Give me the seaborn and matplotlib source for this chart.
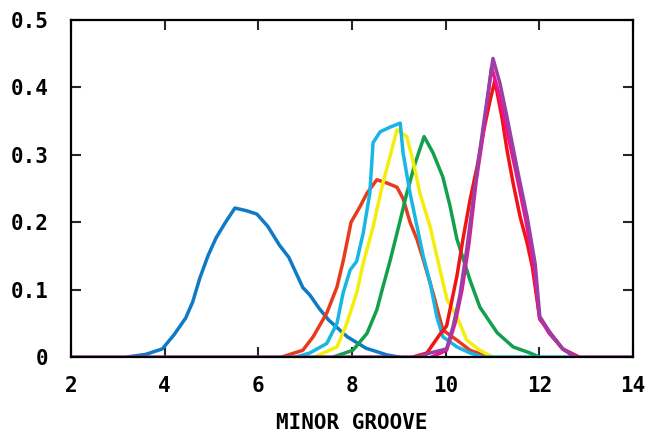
import numpy as np
import pandas as pd
import matplotlib
matplotlib.use("Agg")
import matplotlib.pyplot as plt
import seaborn as sns

# values, one curve per list pair
blue_x = [3.2, 3.6, 3.95, 4.2, 4.45, 4.6, 4.75, 4.93, 5.1, 5.3, 5.5, 5.75, 5.97, 6.2, 6.45,
          6.65, 6.95, 7.1, 7.3, 7.5, 7.9, 8.3, 8.75, 9.0]
blue_y = [0, 0.004, 0.012, 0.033, 0.058, 0.082, 0.117, 0.151, 0.177, 0.200, 0.221, 0.217, 0.212,
          0.194, 0.166, 0.148, 0.103, 0.092, 0.072, 0.055, 0.030, 0.013, 0.003, 0]

orange_x = [6.5, 6.95, 7.17, 7.46, 7.68, 7.82, 7.98, 8.17, 8.32, 8.53, 8.75, 8.96, 9.09, 9.24,
            9.39, 9.52, 9.73, 9.94, 10.24, 10.52, 10.8, 11.0]
orange_y = [0, 0.01, 0.03, 0.065, 0.104, 0.145, 0.2, 0.223, 0.243, 0.263, 0.258, 0.252, 0.235,
            0.200, 0.174, 0.145, 0.095, 0.04, 0.025, 0.01, 0.003, 0]

green_x = [7.6, 8.02, 8.32, 8.53, 8.66, 8.81, 9.03, 9.17, 9.35, 9.54, 9.73, 9.94, 10.09, 10.24,
           10.52, 10.73, 11.1, 11.44, 11.8, 12.0]
green_y = [0, 0.01, 0.035, 0.07, 0.104, 0.142, 0.203, 0.243, 0.288, 0.327, 0.303, 0.267, 0.225,
           0.175, 0.114, 0.074, 0.036, 0.015, 0.006, 0]

yellow_x = [7.2, 7.68, 7.89, 8.1, 8.24, 8.45, 8.66, 8.81, 8.96, 9.17, 9.3, 9.45, 9.67, 9.81,
            10.03, 10.24, 10.45, 10.73, 11.0]
yellow_y = [0, 0.015, 0.05, 0.095, 0.139, 0.193, 0.258, 0.297, 0.337, 0.327, 0.292, 0.243, 0.193,
            0.15, 0.085, 0.06, 0.025, 0.01, 0]

cyan_x = [6.8, 7.1, 7.46, 7.68, 7.81, 7.96, 8.1, 8.24, 8.38, 8.45, 8.6, 8.81, 9.03, 9.09, 9.24,
          9.39, 9.52, 9.67, 9.81, 9.94, 10.24, 10.52, 10.8, 12.7]
cyan_y = [0, 0.006, 0.02, 0.05, 0.095, 0.129, 0.142, 0.184, 0.243, 0.318, 0.334, 0.341, 0.347,
          0.303, 0.243, 0.193, 0.15, 0.11, 0.06, 0.03, 0.015, 0.006, 0, 0]

red_x = [9.3, 9.6, 9.88, 10.02, 10.24, 10.37, 10.52, 10.67, 10.8, 10.95, 11.05, 11.2, 11.31,
         11.44, 11.59, 11.74, 11.85, 12.01, 12.23, 12.5, 12.85]
red_y = [0, 0.006, 0.034, 0.046, 0.12, 0.175, 0.233, 0.282, 0.332, 0.381, 0.41, 0.356, 0.307,
         0.258, 0.208, 0.169, 0.134, 0.056, 0.036, 0.012, 0]

pink_x = [9.7, 10.02, 10.2, 10.35, 10.5, 10.65, 10.8, 10.98, 11.14, 11.28, 11.5, 11.72, 11.88,
          12.0, 12.2, 12.5, 12.75]
pink_y = [0, 0.01, 0.05, 0.1, 0.17, 0.26, 0.33, 0.43, 0.39, 0.345, 0.275, 0.2, 0.135, 0.06,
          0.036, 0.012, 0]

purple_x = [2, 9.4, 9.67, 10.02, 10.16, 10.3, 10.45, 10.62, 10.8, 11.01, 11.16, 11.31, 11.52,
            11.74, 11.91, 12.01, 12.23, 12.5, 12.8, 14]
purple_y = [0, 0, 0.006, 0.012, 0.046, 0.09, 0.16, 0.25, 0.341, 0.443, 0.406, 0.356, 0.282,
            0.208, 0.139, 0.06, 0.036, 0.012, 0, 0]

curves = [
    ("blue", blue_x, blue_y, "#0f7ac6"),
    ("orange", orange_x, orange_y, "#e63b1e"),
    ("green", green_x, green_y, "#12a04c"),
    ("yellow", yellow_x, yellow_y, "#f4ee0c"),
    ("cyan", cyan_x, cyan_y, "#18b6e2"),
    ("red", red_x, red_y, "#f01414"),
    ("pink", pink_x, pink_y, "#ee1290"),
    ("purple", purple_x, purple_y, "#9a3fa6"),
]

x_ticks = [2, 4, 6, 8, 10, 12, 14]
y_ticks = [0, 0.1, 0.2, 0.3, 0.4, 0.5]
y_labels = ["0", "0.1", "0.2", "0.3", "0.4", "0.5"]

df = pd.concat([pd.DataFrame({"x": cx, "y": cy, "curve": name}) for name, cx, cy, _ in curves])

sns.set_style("ticks")
plt.rcParams["font.family"] = ["DejaVu Sans Mono"]

fig = plt.figure(figsize=(6.55, 4.32), dpi=100)
ax = fig.add_axes([0.1084, 0.1736, 0.8580, 0.7801])

for name, cx, cy, col in curves:
    sns.lineplot(data=df[df["curve"] == name], x="x", y="y", color=col, lw=2.5,
                 estimator=None, sort=False, ax=ax, legend=False)

ax.set_xlim(2, 14)
ax.set_ylim(0, 0.5)
ax.set_xticks(x_ticks)
ax.set_xticklabels([str(t) for t in x_ticks], fontsize=15, fontweight="bold", color="black")
ax.set_yticks(y_ticks)
ax.set_yticklabels(y_labels, fontsize=15, fontweight="bold", color="black")
ax.tick_params(axis="x", direction="in", length=7, width=1.5, top=True, pad=14)
ax.tick_params(axis="y", direction="in", length=7, width=1.5, right=True, pad=16)
ax.set_xlabel("MINOR GROOVE", fontsize=15, fontweight="bold", color="black", labelpad=12)
ax.set_ylabel("")
for s in ax.spines.values():
    s.set_linewidth(1.6)
    s.set_color("black")

fig.savefig("out.png", dpi=100)
